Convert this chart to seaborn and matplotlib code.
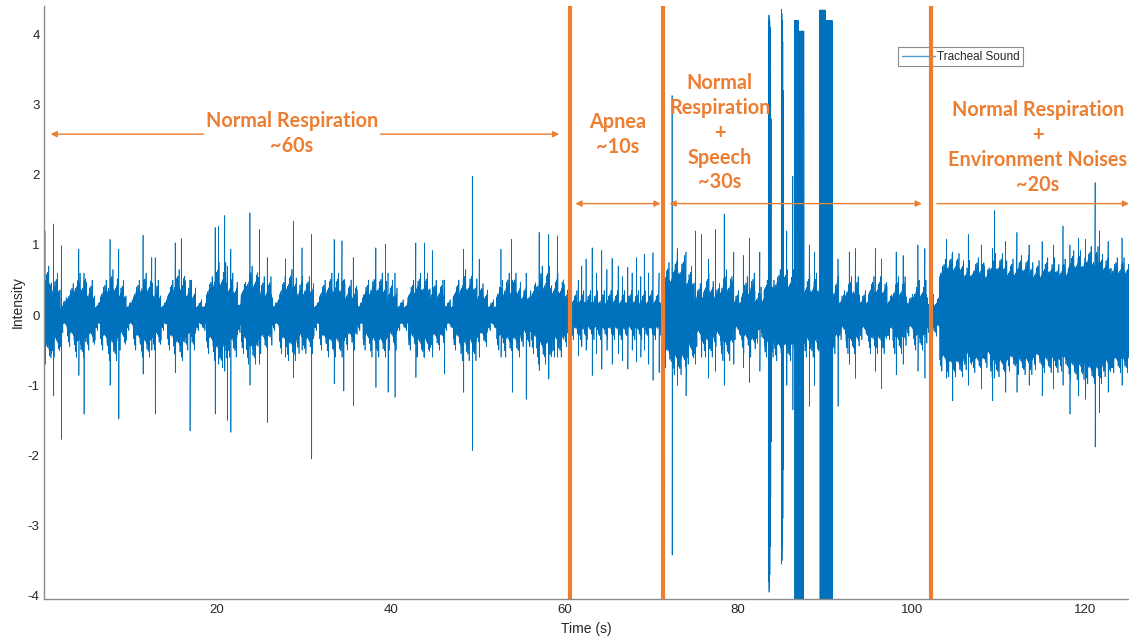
import numpy as np
import pandas as pd
import matplotlib
matplotlib.use('Agg')
import matplotlib.pyplot as plt
from matplotlib.lines import Line2D
import seaborn as sns

# envelope of the dense part of the recording:
# segment start (s), half-height of the solid band, half-height of the light fringe
seg_start = [0.0, 1.0, 2.0, 2.8, 3.6, 5.0, 6.0, 6.6, 7.4, 8.6, 9.6, 10.4, 11.2, 12.6,
             13.6, 14.3, 15.0, 16.4, 17.6, 18.8, 19.6, 21.2, 22.4, 22.8, 23.4, 24.8,
             26.4, 27.2, 28.0, 29.2, 30.0, 31.2, 31.8, 32.6, 34.8, 36.2, 36.8, 37.6,
             39.6, 40.8, 42.0, 42.8, 44.6, 46.2, 47.2, 48.0, 50.0, 51.2, 52.2, 53.0,
             55.0, 56.2, 56.8, 58.6, 60.0, 60.8, 71.4, 72.4, 74.0, 75.0, 76.0, 77.2,
             78.0, 79.4, 80.4, 81.2, 82.0, 83.0, 84.2, 86.5, 87.0,
             87.6, 89.4, 90.1, 90.9, 91.6, 92.4, 94.0, 95.0, 97.2, 97.8, 99.4, 100.2,
             101.8, 103.2, 104.0, 106.0, 107.0, 108.4, 109.0, 111.0, 112.0, 114.0,
             115.0, 117.0, 118.0, 120.0, 122.0, 123.0]
seg_core = [0.40, 0.30, 0.10, 0.22, 0.33, 0.22, 0.10, 0.25, 0.32, 0.22, 0.10, 0.25, 0.32, 0.22,
            0.10, 0.25, 0.33, 0.22, 0.10, 0.28, 0.40, 0.28, 0.12, 0.28, 0.38, 0.25,
            0.10, 0.28, 0.35, 0.25, 0.30, 0.10, 0.25, 0.30, 0.22, 0.10, 0.25, 0.30,
            0.22, 0.10, 0.25, 0.32, 0.24, 0.10, 0.25, 0.32, 0.22, 0.10, 0.25, 0.28,
            0.20, 0.25, 0.35, 0.28, 0.22, 0.15, 0.45, 0.55, 0.40, 0.20, 0.30, 0.22,
            0.32, 0.15, 0.25, 0.30, 0.18, 0.35, 0.38, 4.20, 4.05,
            0.30, 4.35, 4.20, 0.25, 0.15, 0.28, 0.15, 0.28, 0.15, 0.26, 0.14, 0.25,
            0.12, 0.55, 0.62, 0.52, 0.58, 0.50, 0.62, 0.55, 0.60, 0.52,
            0.58, 0.55, 0.65, 0.70, 0.62, 0.58]
seg_fringe = [0.70, 0.60, 0.25, 0.45, 0.60, 0.50, 0.22, 0.50, 0.65, 0.50, 0.22, 0.50, 0.60, 0.50,
              0.22, 0.50, 0.65, 0.50, 0.22, 0.55, 0.75, 0.60, 0.25, 0.55, 0.70, 0.55,
              0.22, 0.55, 0.65, 0.55, 0.55, 0.22, 0.50, 0.60, 0.50, 0.22, 0.50, 0.60,
              0.50, 0.22, 0.50, 0.60, 0.50, 0.22, 0.50, 0.65, 0.45, 0.22, 0.50, 0.60,
              0.45, 0.55, 0.70, 0.60, 0.45, 0.35, 0.75, 0.85, 0.70, 0.45, 0.60, 0.45,
              0.65, 0.35, 0.55, 0.60, 0.40, 0.60, 0.65, 4.20, 4.05,
              0.60, 4.35, 4.20, 0.55, 0.35, 0.55, 0.35, 0.55, 0.35, 0.55, 0.30, 0.50,
              0.30, 0.80, 0.88, 0.78, 0.82, 0.75, 0.88, 0.80, 0.85, 0.78,
              0.82, 0.80, 0.92, 0.98, 0.88, 0.82]
t_end = 125.0

# single tall strokes: time (s), top, bottom
spike_t = [0.2, 1.2, 2.1, 4.1, 4.7, 7.7, 8.7, 11.5, 12.5, 12.9, 15.2, 15.9, 16.9, 19.8,
           20.2, 20.9, 21.2, 21.6, 23.8, 24.9, 25.8, 27.9, 28.8, 29.8, 30.9, 33.5, 34.4,
           34.6, 35.7, 38.3, 39.4, 39.7, 40.5, 42.9, 43.9, 44.8, 46.2, 48.4, 49.4, 50.2,
           52.7, 53.9, 54.0, 55.6, 57.1, 58.2, 59.2,
           61.6, 62.0, 62.5, 63.2, 63.7, 64.3, 64.9, 65.5, 66.2, 66.7, 67.3, 67.8, 68.3,
           68.8, 69.2, 69.7, 70.2, 70.9,
           72.4, 73.0, 74.0, 75.1, 75.8, 76.6, 77.4, 78.4, 79.5, 80.6, 81.3, 82.5,
           83.5, 83.55, 83.6, 83.65, 83.7, 83.75, 83.8,
           85.0, 85.05, 85.1, 85.15, 85.2, 85.6, 86.3,
           88.2, 88.8, 91.5, 92.8, 93.5, 95.8, 96.5, 98.2, 99.0, 100.7, 101.5,
           104.0, 104.7, 106.5, 108.0, 109.3, 109.5, 110.8, 112.1, 113.5, 115.0, 116.3,
           117.4, 118.2, 119.2, 120.0, 121.1, 121.6, 122.6, 124.2]
spike_hi = [1.20, 1.30, 0.99, 0.94, 0.60, 1.08, 0.94, 1.14, 0.82, 0.82, 1.03, 1.09, 0.50, 1.25,
            1.27, 1.42, 0.70, 0.94, 1.46, 1.22, 0.82, 0.80, 1.34, 0.96, 1.15, 1.08, 1.06,
            0.50, 0.82, 0.96, 1.01, 0.60, 0.60, 1.03, 1.03, 0.92, 0.50, 0.94, 1.98, 0.80,
            0.94, 1.08, 0.50, 0.60, 1.18, 1.15, 1.13,
            0.50, 0.70, 0.80, 0.96, 0.60, 0.92, 0.65, 0.81, 0.70, 0.55, 0.68, 0.60, 0.82,
            0.55, 0.87, 0.60, 0.89, 0.60,
            3.13, 0.95, 0.90, 1.20, 1.15, 0.80, 1.22, 1.44, 0.90, 0.85, 1.10, 0.90,
            4.20, 4.28, 4.25, 4.20, 4.10, 3.60, 2.80,
            4.36, 4.30, 4.20, 3.90, 3.20, 1.20, 1.98,
            1.00, 0.90, 0.80, 0.90, 0.95, 0.95, 0.80, 0.90, 0.85, 1.00, 0.95,
            1.08, 0.90, 1.15, 1.00, 0.95, 1.49, 1.05, 1.18, 1.00, 1.05, 1.00,
            1.27, 1.00, 1.10, 1.08, 1.89, 1.20, 1.05, 1.10]
spike_lo = [-0.60, -1.15, -1.77, -0.86, -1.41, -1.00, -1.48, -0.84, -0.50, -1.41, -0.82, -0.60, -1.65, -1.41,
            -0.70, -0.80, -1.50, -1.67, -1.00, -0.70, -1.53, -0.60, -0.89, -0.50, -2.05, -0.98, -0.60,
            -1.08, -1.29, -1.03, -0.60, -1.10, -1.17, -0.89, -0.60, -0.60, -0.84, -1.10, -1.93, -0.60,
            -0.60, -0.50, -1.10, -1.20, -0.79, -0.91, -0.60,
            -0.58, -0.45, -0.50, -0.86, -0.55, -0.77, -0.50, -0.70, -0.55, -0.65, -0.77, -0.50, -0.67,
            -0.60, -0.50, -0.70, -0.93, -0.82,
            -3.42, -1.00, -1.15, -0.70, -0.60, -0.90, -0.80, -1.00, -0.70, -0.75, -0.96, -0.80,
            -3.80, -3.95, -3.90, -3.70, -3.30, -2.60, -1.80,
            -3.55, -3.50, -3.30, -2.90, -2.20, -1.00, -1.35,
            -1.30, -1.00, -1.30, -0.70, -0.90, -0.80, -1.05, -0.85, -0.70, -0.80, -0.90,
            -0.90, -1.22, -1.00, -1.05, -1.22, -0.90, -1.10, -1.10, -1.00, -1.15, -1.05,
            -1.00, -1.41, -1.15, -1.20, -1.88, -1.39, -1.10, -1.00]

# hand-drawn overlay: phase boundaries and labels
marker_t = [60.6, 71.35, 102.2]
phase_labels = ['Normal Respiration\n~60s', 'Apnea\n~10s',
                'Normal\nRespiration\n+\nSpeech\n~30s',
                'Normal Respiration\n+\nEnvironment Noises\n~20s']
label_x = [28.65, 66.1, 77.9, 114.5]
label_y = [2.59, 2.57, 2.60, 2.39]
arrow_from = [0.86, 61.27, 72.1, 102.88]
arrow_to = [59.4, 71.07, 101.15, 125.0]
arrow_y = [2.58, 1.59, 1.59, 1.59]

orange = '#ED7D31'
blue = '#0072BD'

# turn the envelope and strokes into one trace; the fringe is reached
# in a fixed uneven order so the band edge looks ragged instead of flat
texture = [0.0, 0.35, 0.1, 0.7, 0.2, 0.5, 0.05, 1.0, 0.3, 0.15, 0.6]
pts_t, pts_y = [], []
seg_end = seg_start[1:] + [t_end]
for s, e, c, f in zip(seg_start, seg_end, seg_core, seg_fringe):
    n = max(4, int(round((e - s) * 28)))
    for k in range(n):
        amp = c + texture[k % len(texture)] * (f - c)
        pts_t.append(s + (e - s) * k / n)
        pts_y.append(amp if k % 2 == 0 else -amp)
for t, hi, lo in zip(spike_t, spike_hi, spike_lo):
    pts_t += [t, t + 0.01]
    pts_y += [hi, lo]
sig = pd.DataFrame({'Time (s)': pts_t, 'Intensity': pts_y}).sort_values('Time (s)')

sns.set_style('white')
plt.rcParams['font.family'] = ['Liberation Sans', 'DejaVu Sans']
plt.rcParams['axes.unicode_minus'] = False

fig = plt.figure(figsize=(11.29, 6.44), dpi=100)
ax = fig.add_axes([0.0394, 0.0695, 0.9606, 0.9215])

sns.lineplot(data=sig, x='Time (s)', y='Intensity', ax=ax, color=blue, lw=0.5,
             estimator=None, sort=False, legend=False)

ax.set_xlim(0.15, 125)
ax.set_ylim(-4.05, 4.41)
ax.set_xticks([20, 40, 60, 80, 100, 120])
ax.set_yticks([-4, -3, -2, -1, 0, 1, 2, 3, 4])
for side in ['top', 'right']:
    ax.spines[side].set_visible(False)
for side in ['left', 'bottom']:
    ax.spines[side].set_color('#8c8c8c')
    ax.spines[side].set_linewidth(1.0)
ax.tick_params(direction='in', length=5, width=0.9, color='#8c8c8c',
               labelcolor='#262626', labelsize=9.5)
ax.set_xlabel('Time (s)', fontsize=10, color='#262626', labelpad=4)
ax.set_ylabel('Intensity', fontsize=10, color='#262626', labelpad=2)

handle = Line2D([], [], color='#4d9fd6', lw=1.0)
leg = ax.legend([handle], ['Tracheal Sound'], loc='upper left',
                bbox_to_anchor=(0.787, 0.93), fontsize=8.5,
                frameon=True, fancybox=False, framealpha=1, borderpad=0.3,
                handlelength=2.8, handletextpad=0.2, borderaxespad=0)
leg.get_frame().set_edgecolor('#8c8c8c')
leg.get_frame().set_linewidth(0.8)
leg.set_zorder(5)

for x in marker_t:
    ax.axvline(x, color=orange, lw=3, zorder=10)

for a, b, y in zip(arrow_from, arrow_to, arrow_y):
    style = '<|-|>' if b < 124 else '<|-'
    ax.annotate('', xy=(a, y), xytext=(b, y), zorder=11,
                arrowprops=dict(arrowstyle=style, color=orange, lw=1,
                                mutation_scale=9, shrinkA=0, shrinkB=0))

for txt, x, y in zip(phase_labels, label_x, label_y):
    box = dict(fc='white', ec='none', pad=1.5) if txt.endswith('~60s') else None
    ax.text(x, y, txt, ha='center', va='center', color=orange, fontsize=14.3,
            fontweight='bold', family='Lato', linespacing=1.3, zorder=12, bbox=box)

fig.savefig('out.png', dpi=100)
